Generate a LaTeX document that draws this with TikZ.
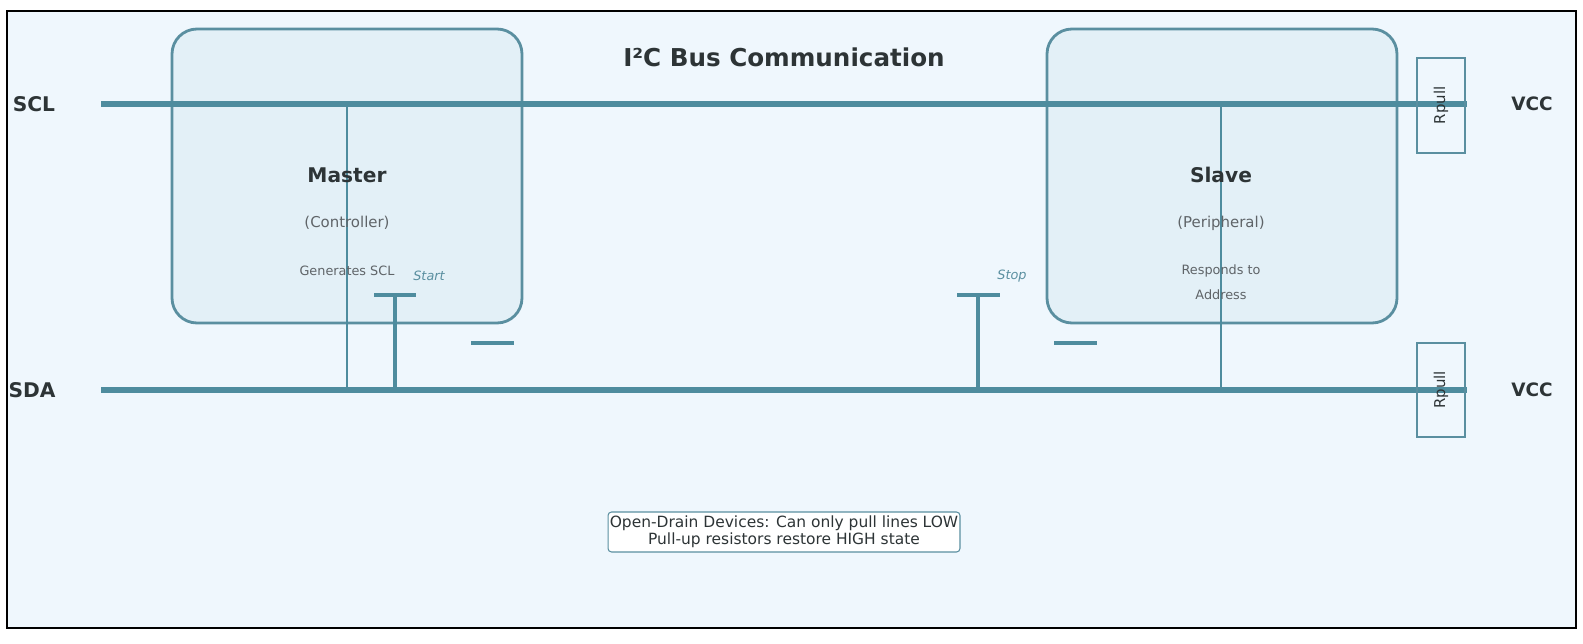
\documentclass[tikz,border=0pt]{standalone}
\usepackage{fontspec}
\setmainfont{DejaVu Sans}
\begin{document}
\definecolor{bg}{HTML}{EFF7FD}
\definecolor{boxf}{HTML}{E3F0F7}
\definecolor{teal}{HTML}{5A8FA0}
\definecolor{bus}{HTML}{4E8C9E}
\definecolor{txt}{HTML}{2D3436}
\definecolor{sub}{HTML}{5F6468}
\begin{tikzpicture}[x=0.02cm,y=-0.02cm,
  dev/.style={draw=teal,fill=boxf,line width=1.6pt,rounded corners=0.5cm},
  busl/.style={draw=bus,line width=3.2pt},
  tap/.style={draw=bus,line width=1.6pt},
  sigmark/.style={draw=bus,line width=2.2pt},
  res/.style={draw=teal,line width=1.4pt},
  lbl/.style={font=\bfseries\fontsize{11.5}{13}\selectfont,text=txt},
  sm/.style={font=\fontsize{7.3}{8}\selectfont,text=sub}]
\useasboundingbox (0,0) rectangle (1583,643);
\draw[fill=bg,draw=black,line width=0.6pt] (7,11) rectangle (1576,628);
\draw[dev] (172,29) rectangle (522,323);
\draw[dev] (1047,29) rectangle (1397,323);
\node[font=\bfseries\fontsize{14}{16}\selectfont,text=txt] (title) at (784,57) {I²C Bus Communication};
\coordinate (sclA) at (101,104); \coordinate (sclB) at (1467,104);
\coordinate (sdaA) at (101,390); \coordinate (sdaB) at (1467,390);
\coordinate (m1) at (347,104); \coordinate (m2) at (347,390);
\coordinate (s1) at (1221,104); \coordinate (s2) at (1221,390);
\draw[tap] (m1) -- (m2);
\draw[tap] (s1) -- (s2);
\draw[busl] (sclA) -- (sclB);
\draw[busl] (sdaA) -- (sdaB);
\node[lbl] (scl) at (34,104) {SCL};
\node[lbl] (sda) at (32,390) {SDA};
\node[lbl,font=\bfseries\fontsize{10.5}{12}\selectfont] (v1) at (1532,104) {VCC};
\node[lbl,font=\bfseries\fontsize{10.5}{12}\selectfont] (v2) at (1532,390) {VCC};
\node[res,minimum width=0.96cm,minimum height=1.9cm,inner sep=0pt] (r1) at (1441,105.5) {};
\node[rotate=90,font=\fontsize{8.5}{9}\selectfont,text=txt] (r1t) at (r1) {Rpull};
\node[res,minimum width=0.96cm,minimum height=1.88cm,inner sep=0pt] (r2) at (1441,390) {};
\node[rotate=90,font=\fontsize{8.5}{9}\selectfont,text=txt] (r2t) at (r2) {Rpull};
\node[lbl] (mt) at (347,175) {Master};
\node[font=\fontsize{8.5}{9}\selectfont,text=sub] (mc) at (347,223) {(Controller)};
\node[sm] (mg) at (347,271) {Generates SCL};
\node[lbl] (st) at (1221,175) {Slave};
\node[font=\fontsize{8.5}{9}\selectfont,text=sub] (sp) at (1221,223) {(Peripheral)};
\node[sm] (sr) at (1221,271) {Responds to};
\node[sm] (sa) at (1221,295) {Address};
\coordinate (a1) at (395,295); \coordinate (a2) at (395,390);
\coordinate (a3) at (374,295); \coordinate (a4) at (416,295);
\draw[sigmark] (a1) -- (a2); \draw[sigmark] (a3) -- (a4);
\coordinate (b1) at (471,343); \coordinate (b2) at (514,343);
\draw[sigmark] (b1) -- (b2);
\node[font=\itshape\fontsize{7.3}{8}\selectfont,text=teal] (stt) at (429,276) {Start};
\coordinate (c1) at (978,295); \coordinate (c2) at (978,390);
\coordinate (c3) at (957,295); \coordinate (c4) at (1000,295);
\draw[sigmark] (c1) -- (c2); \draw[sigmark] (c3) -- (c4);
\coordinate (d1) at (1054,343); \coordinate (d2) at (1097,343);
\draw[sigmark] (d1) -- (d2);
\node[font=\itshape\fontsize{7.3}{8}\selectfont,text=teal] (spt) at (1012,276) {Stop};
\node[draw=teal,fill=white,rounded corners=2pt,line width=0.6pt,align=center,
  font=\fontsize{8.8}{9.8}\selectfont,text=txt,minimum width=7cm,minimum height=0.8cm,inner sep=1pt] (note) at (784,532)
  {Open-Drain Devices: Can only pull lines LOW\\Pull-up resistors restore HIGH state};
\end{tikzpicture}
\end{document}
